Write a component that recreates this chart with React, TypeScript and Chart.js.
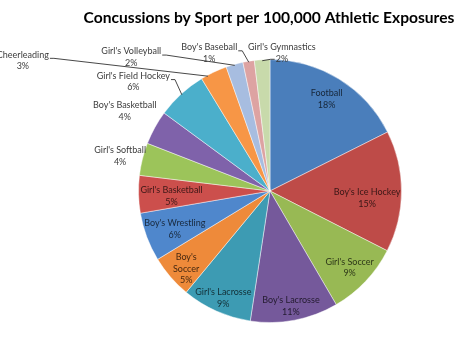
import React, { useEffect, useRef } from 'react';
import { Chart, registerables } from 'chart.js';

Chart.register(...registerables);

const TITLE = 'Concussions by Sport per 100,000 Athletic Exposures';

const sports = [
  'Football',
  "Boy's Ice Hockey",
  "Girl's Soccer",
  "Boy's Lacrosse",
  "Girl's Lacrosse",
  "Boy's Soccer",
  "Boy's Wrestling",
  "Girl's Basketball",
  "Girl's Softball",
  "Boy's Basketball",
  "Girl's Field Hockey",
  'Cheerleading',
  "Girl's Volleyball",
  "Boy's Baseball",
  "Girl's Gymnastics",
];

// share of concussions (percent of total)
const shares = [17.6, 14.9, 9.1, 10.8, 8.6, 5.3, 6.0, 4.6, 4.0, 4.2, 6.2, 3.3, 2.1, 1.4, 1.9];

const sliceColors = [
  '#4A7EBB', '#BE4B48', '#98B954', '#75599B', '#3D9BB3', '#EE8A3A',
  '#4F87CC', '#CC4F4C', '#9CC45A', '#7F62AA', '#4BAFCB', '#F79646',
  '#A7BDE0', '#DDA3A2', '#C8DAAB',
];

// label text lines (category name may wrap)
const labelLines: string[][] = sports.map((s) => (s === "Boy's Soccer" ? ["Boy's", 'Soccer'] : [s]));

// label placement: [radius factor, angle shift in degrees, inside?, leader style, leader target shift deg]
const placement: [number, number, boolean, string, number][] = [
  [0.82, 0, true, '', 0],
  [0.74, 3.9, true, '', 0],
  [0.84, 0.5, true, '', 0],
  [0.89, 0.5, true, '', 0],
  [0.89, -0.6, true, '', 0],
  [0.87, -2, true, '', 0],
  [0.78, -1.3, true, '', 0],
  [0.75, -1.5, true, '', 0],
  [1.17, -1, false, '', 0],
  [1.26, 0, false, '', 0],
  [1.33, -8.9, false, 'right', 0],
  [2.125, -36.8, false, 'right', -3],
  [1.465, -30.4, false, 'right', 0],
  [1.146, -14.4, false, 'right', 0],
  [1.053, 8.35, false, 'left', 0],
];

function darken(hex: string, k: number) {
  const n = parseInt(hex.slice(1), 16);
  const r = Math.round(((n >> 16) & 255) * k);
  const g = Math.round(((n >> 8) & 255) * k);
  const b = Math.round((n & 255) * k);
  return `rgb(${r},${g},${b})`;
}

const FONT = 'Lato, "Open Sans", sans-serif';

const labelPlugin = {
  id: 'sliceLabels',
  afterDraw(chart: any) {
    const ctx: CanvasRenderingContext2D = chart.ctx;
    const meta = chart.getDatasetMeta(0);
    const total = shares.reduce((a, b) => a + b, 0);
    const area = chart.chartArea;
    ctx.save();
    // title
    ctx.font = `bold 15.6px ${FONT}`;
    ctx.fillStyle = '#000';
    ctx.textAlign = 'center';
    ctx.textBaseline = 'middle';
    ctx.fillText(TITLE, (area.left + area.right) / 2 - 1, 18);

    ctx.font = `9px ${FONT}`;
    const lh = 11.5;
    meta.data.forEach((arc: any, i: number) => {
      const p = arc.getProps(['x', 'y', 'startAngle', 'endAngle', 'outerRadius'], true);
      const mid = (p.startAngle + p.endAngle) / 2;
      const [f, shift, inside, leader, tShift] = placement[i];
      const a = mid + (shift * Math.PI) / 180;
      const cx = p.x + Math.cos(a) * p.outerRadius * f;
      const cy = p.y + Math.sin(a) * p.outerRadius * f;
      const pct = Math.round((shares[i] / total) * 100) + '%';
      const lines = [...labelLines[i], pct];
      const top = cy - ((lines.length - 1) * lh) / 2;
      ctx.fillStyle = inside ? darken(sliceColors[i], 0.3) : '#3c3c3c';
      lines.forEach((t, j) => ctx.fillText(t, cx, top + j * lh));
      if (leader) {
        const ta = mid + (tShift * Math.PI) / 180;
        const tx = p.x + Math.cos(ta) * (p.outerRadius - 1);
        const ty = p.y + Math.sin(ta) * (p.outerRadius - 1);
        ctx.strokeStyle = '#333';
        ctx.lineWidth = 0.9;
        ctx.beginPath();
        if (leader === 'right') {
          const w = ctx.measureText(lines[0]).width;
          const sx = cx + w / 2 + 1;
          const sy = top + 3.5;
          ctx.moveTo(sx, sy);
          ctx.lineTo(sx + 4, sy);
          ctx.lineTo(tx, ty);
        } else {
          const w = ctx.measureText(lines[lines.length - 1]).width;
          const sx = cx - w / 2 - 1;
          const sy = top + (lines.length - 1) * lh + 0.5;
          ctx.moveTo(sx, sy);
          ctx.lineTo(sx - 4, sy);
          ctx.lineTo(tx, ty);
        }
        ctx.stroke();
      }
    });
    ctx.restore();
  },
};

export default function App() {
  const ref = useRef<HTMLCanvasElement | null>(null);
  useEffect(() => {
    document.body.style.margin = '0';
    const canvas = ref.current;
    if (!canvas) return;
    const chart = new Chart(canvas, {
      type: 'pie',
      data: {
        labels: sports,
        datasets: [
          {
            data: shares,
            backgroundColor: sliceColors,
            borderColor: 'rgba(255,255,255,0.45)',
            borderWidth: 1,
          },
        ],
      },
      options: {
        responsive: false,
        animation: false,
        events: [],
        layout: { padding: { left: 138, right: 72, top: 59, bottom: 32 } },
        plugins: {
          legend: { display: false },
          tooltip: { enabled: false },
          title: { display: false },
        },
      },
      plugins: [labelPlugin],
    });
    return () => chart.destroy();
  }, []);
  return (
    <div style={{ width: 474, height: 355, background: '#fff' }}>
      <canvas ref={ref} width={474} height={355} />
    </div>
  );
}
